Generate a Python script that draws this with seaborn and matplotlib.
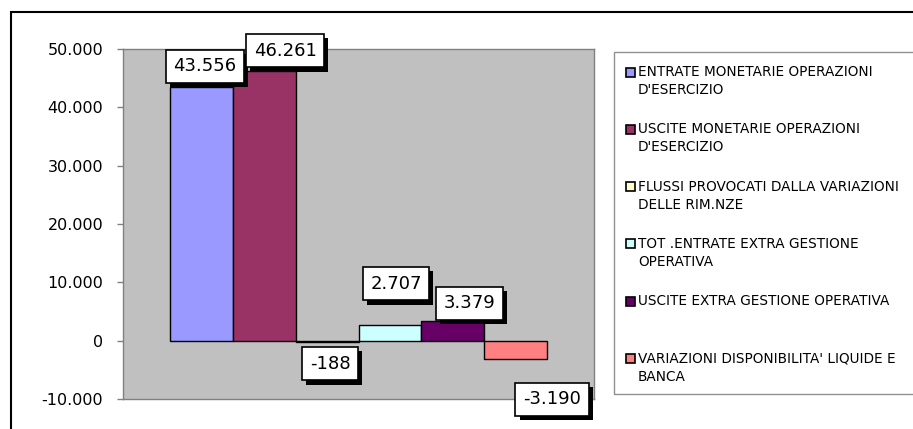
import matplotlib
matplotlib.use("Agg")
import matplotlib.pyplot as plt
import matplotlib.patheffects as pe
from matplotlib.patches import Rectangle
from matplotlib.ticker import FuncFormatter
import seaborn as sns
import pandas as pd

# Dati del grafico (rendiconto finanziario)
voci = [
    "ENTRATE MONETARIE OPERAZIONI\nD'ESERCIZIO",
    "USCITE MONETARIE OPERAZIONI\nD'ESERCIZIO",
    "FLUSSI PROVOCATI DALLA VARIAZIONI\nDELLE RIM.NZE",
    "TOT .ENTRATE EXTRA GESTIONE\nOPERATIVA",
    "USCITE EXTRA GESTIONE OPERATIVA",
    "VARIAZIONI DISPONIBILITA' LIQUIDE E\nBANCA",
]
valori = [43556, 46261, -188, 2707, 3379, -3190]
colori = ["#9999FF", "#993366", "#FFFFCC", "#CCFFFF", "#660066", "#FF8080"]
tick_y = [-10000, 0, 10000, 20000, 30000, 40000, 50000]

# spostamento delle etichette rispetto alla barra (pixel: dx, dy verso l'alto)
spost_etichette = [(3.5, 20.5), (21, 20), (3, -22), (6, 41), (16.5, 17.5), (36.5, -40)]


def formato_it(v, pos=None):
    return f"{int(v):,}".replace(",", ".")


df = pd.DataFrame({"gruppo": [""] * len(voci), "voce": voci, "valore": valori})

sns.set_style("white")
plt.rcParams["font.family"] = ["DejaVu Sans"]

W, H = 913, 429
fig = plt.figure(figsize=(W / 100, H / 100), dpi=100)
ax = fig.add_axes([123 / W, 1 - 399 / H, 471 / W, 350 / H])

sns.barplot(data=df, x="gruppo", y="valore", hue="voce", hue_order=voci,
            palette=colori, saturation=1, edgecolor="black", linewidth=1,
            legend=False, width=0.8, ax=ax)

ax.set_facecolor("#C0C0C0")
ax.set_xlim(-0.5, 0.5)
ax.set_ylim(-10000, 50000)
ax.set_yticks(tick_y)
ax.yaxis.set_major_formatter(FuncFormatter(formato_it))
ax.set_xticks([])
ax.set_xlabel("")
ax.set_ylabel("")
ax.tick_params(axis="y", left=True, length=4.3, width=1, color="#808080",
               pad=10, labelsize=11.5, labelcolor="black")
for s in ax.spines.values():
    s.set_color("#808080")
    s.set_linewidth(1)

# etichette con ombra
barre = sorted(ax.patches, key=lambda p: p.get_x())
for barra, v, (dx, dy) in zip(barre, valori, spost_etichette):
    xc = barra.get_x() + barra.get_width() / 2
    ann = ax.annotate(formato_it(v), xy=(xc, v), xytext=(dx, dy),
                      textcoords="offset pixels", ha="center", va="center",
                      fontsize=13, color="black",
                      bbox=dict(boxstyle="square,pad=0.42", fc="white",
                                ec="black", lw=1.2))
    ann.get_bbox_patch().set_path_effects([
        pe.SimplePatchShadow(offset=(3, -3), shadow_rgbFace="black", alpha=1),
        pe.Normal()])

# cornice esterna
fig.add_artist(Rectangle((11 / W, -0.1), 1.2, 1 - 12 / H + 0.1,
                         transform=fig.transFigure, fill=False,
                         ec="black", lw=1.5))

# legenda disegnata a mano (riquadro che esce a destra)
fig.add_artist(Rectangle((614 / W, 1 - 394 / H), 1, (394 - 52) / H,
                         transform=fig.transFigure, fill=False,
                         ec="#909090", lw=1))
y0 = 72
passo = 57.3
for i, (voce, col) in enumerate(zip(voci, colori)):
    yc = y0 + i * passo
    fig.add_artist(Rectangle((626 / W, 1 - (yc + 4.5) / H), 9 / W, 9 / H,
                             transform=fig.transFigure, fc=col,
                             ec="black", lw=1.2))
    fig.text(638 / W, 1 - (yc - 7) / H, voce, ha="left", va="top",
             fontsize=9.8, color="black", linespacing=1.38)

fig.savefig("out.png", dpi=100)
